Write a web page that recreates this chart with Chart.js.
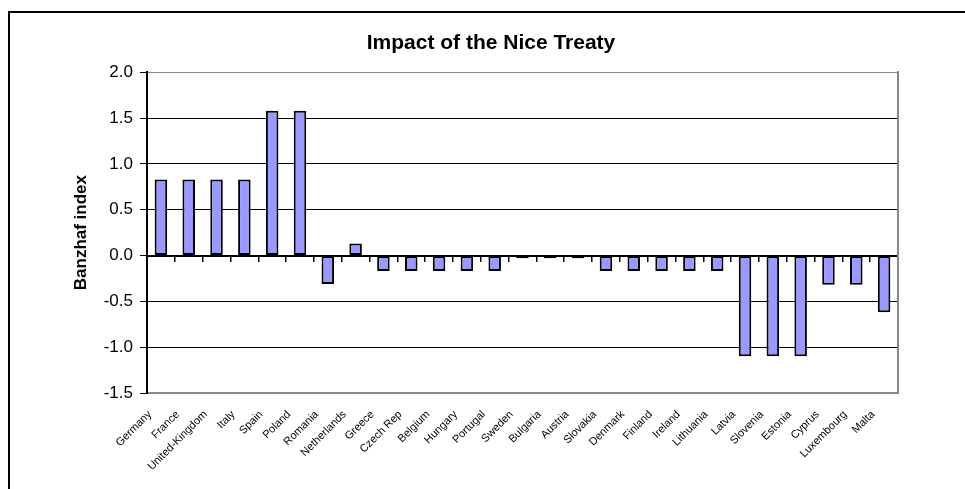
<!DOCTYPE html>
<html>
<head>
<meta charset="utf-8">
<title>Impact of the Nice Treaty</title>
<script src="https://cdn.jsdelivr.net/npm/chart.js@4.4.1/dist/chart.umd.min.js"></script>
<style>
  html, body { margin: 0; padding: 0; background: #ffffff; overflow: hidden; }
  #frame { position: absolute; left: 8px; top: 11px; width: 1000px; height: 600px; border-left: 2px solid #000; border-top: 2px solid #000; }
  #chartWrapper { position: absolute; left: 0; top: 0; width: 965px; height: 489px; }
</style>
</head>
<body>
<div id="frame"></div>
<div id="chartWrapper"><canvas id="niceChart" width="965" height="489"></canvas></div>
<script>
const CATEGORIES = [
  "Germany", "France", "United-Kingdom", "Italy", "Spain", "Poland", "Romania",
  "Netherlands", "Greece", "Czech Rep", "Belgium", "Hungary", "Portugal", "Sweden",
  "Bulgaria", "Austria", "Slovakia", "Denmark", "Finland", "Ireland", "Lithuania",
  "Latvia", "Slovenia", "Estonia", "Cyprus", "Luxembourg", "Malta"
];

const BANZHAF_CHANGE = [
  0.83, 0.83, 0.83, 0.83, 1.58, 1.58, -0.31,
  0.13, -0.17, -0.17, -0.17, -0.17, -0.17, -0.03,
  -0.03, -0.03, -0.17, -0.17, -0.17, -0.17, -0.17,
  -1.10, -1.10, -1.10, -0.32, -0.32, -0.62
];

const Y_TICKS = [-1.5, -1.0, -0.5, 0.0, 0.5, 1.0, 1.5, 2.0];

const FONT = "'Liberation Sans', Arial, Helvetica, sans-serif";

function yGridColor(ctx) {
  // top edge of the plot is grey like the plot frame, the rest black
  if (ctx.tick && ctx.tick.value === Y_TICKS[Y_TICKS.length - 1]) {
    return "#888888";
  }
  return "#000000";
}

function renderChart() {
  let ctx = document.getElementById("niceChart");

  new Chart(ctx, {
    type: "bar",
    data: {
      labels: CATEGORIES,
      datasets: [
        {
          label: "Banzhaf index",
          data: BANZHAF_CHANGE,
          backgroundColor: "#9999ff",
          borderColor: "#000000",
          borderWidth: 2,
          borderSkipped: false,
          categoryPercentage: 1.0,
          barPercentage: 0.45,
          xAxisID: "x",
          yAxisID: "y",
        },
      ],
    },
    options: {
      responsive: false,
      animation: false,
      devicePixelRatio: 1,
      layout: { padding: { left: 17, right: 0, top: 0, bottom: 0 } },
      plugins: {
        legend: { display: false },
        tooltip: { enabled: false },
        title: {
          display: true,
          text: "Impact of the Nice Treaty",
          color: "#000000",
          font: { family: FONT, size: 21, weight: "bold" },
          padding: { top: 31, bottom: 16 },
        },
      },
      scales: {
        x: {
          type: "category",
          position: "bottom",
          grid: { display: true, drawOnChartArea: false, drawTicks: false },
          border: { color: "#888888", width: 2 },
          ticks: {
            color: "#000000",
            font: { family: FONT, size: 11 },
            minRotation: 45,
            maxRotation: 45,
            autoSkip: false,
            padding: 15,
            labelOffset: -11,
          },
          afterFit: (axis) => {
            axis.height = 96;
          },
        },
        xZero: {
          type: "category",
          labels: CATEGORIES,
          position: { y: 0 },
          grid: {
            display: true,
            drawOnChartArea: false,
            drawTicks: true,
            tickLength: 5,
            offset: true,
            color: "#000000",
            lineWidth: 1.5,
          },
          border: { color: "#000000", width: 2 },
          ticks: { display: false },
        },
        y: {
          type: "linear",
          position: "left",
          min: Y_TICKS[0],
          max: Y_TICKS[Y_TICKS.length - 1],
          afterBuildTicks: (axis) => {
            axis.ticks = Y_TICKS.map((v) => ({ value: v }));
          },
          grid: {
            color: yGridColor,
            tickColor: "#000000",
            lineWidth: 1,
            tickLength: 7,
          },
          border: { color: "#000000", width: 2 },
          ticks: {
            color: "#000000",
            font: { family: FONT, size: 17 },
            padding: 7,
            callback: (value) => Number(value).toFixed(1),
          },
          title: {
            display: true,
            text: "Banzhaf index",
            color: "#000000",
            font: { family: FONT, size: 17, weight: "bold" },
            padding: { top: 54, bottom: 0 },
          },
          afterFit: (axis) => {
            axis.width = 130;
          },
        },
        yRight: {
          type: "linear",
          position: "right",
          grid: { display: true, drawOnChartArea: false, drawTicks: false },
          border: { color: "#888888", width: 2 },
          ticks: { display: false },
          afterFit: (axis) => {
            axis.width = 67;
          },
        },
      },
    },
  });
}

renderChart();
</script>
</body>
</html>
